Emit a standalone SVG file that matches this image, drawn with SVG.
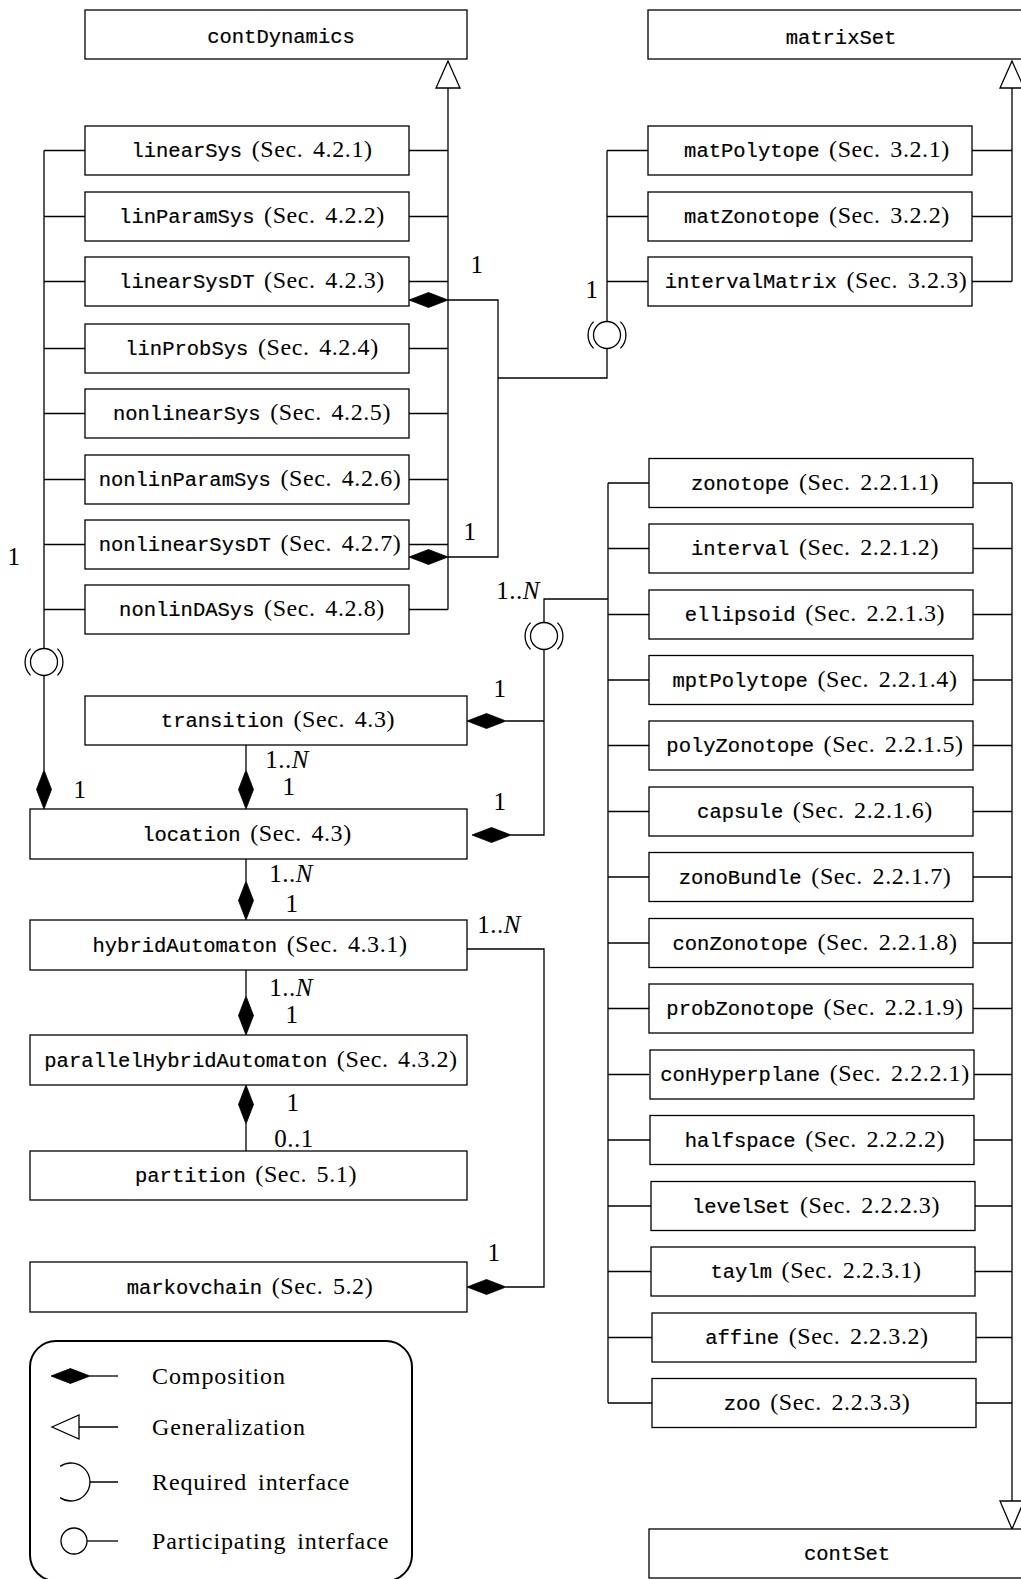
<svg xmlns="http://www.w3.org/2000/svg" width="1021" height="1579" viewBox="0 0 1021 1579">
<style>
.box{fill:#fff;stroke:#000;stroke-width:1.3}
.tt{font-family:"Liberation Mono","DejaVu Sans Mono",monospace;font-size:20.5px;stroke:#000;stroke-width:0.2}
.rm{font-family:"Liberation Serif","DejaVu Serif",serif;font-size:24px;letter-spacing:0.6px;word-spacing:3px}
.lg{letter-spacing:0.9px;word-spacing:4px}
.lbl{font-family:"Liberation Serif","DejaVu Serif",serif;font-size:25px;text-anchor:middle;letter-spacing:0.5px}
.it{font-style:italic}
text{fill:#000}
.c{text-anchor:middle}
.ln{fill:none;stroke:#000;stroke-width:1.3}
.dia{fill:#000;stroke:#000;stroke-width:0.8}
.gen{fill:#fff;stroke:#000;stroke-width:1.3}
.leg{fill:none;stroke:#000;stroke-width:2}
</style>
<defs>
<path id="dia" class="dia" d="M0,0 L19.5,-7.5 L39,0 L19.5,7.5 Z"/>
<g id="iface" class="ln">
<circle cx="0" cy="0" r="13.5"/>
<path d="M13.4,-13.4 A19,19 0 0 1 13.4,13.4"/>
<path d="M-13.4,13.4 A19,19 0 0 1 -13.4,-13.4"/>
</g>
</defs>

<g id="connectors">
<path class="ln" d="M44,150.5 H85 M44,216.5 H85 M44,281.5 H85 M44,348.5 H85 M44,413.5 H85 M44,479.5 H85 M44,544.5 H85 M44,609.5 H85"/>
<path class="ln" d="M409,150.5 H448 M409,216.5 H448 M409,281.5 H448 M409,348.5 H448 M409,413.5 H448 M409,479.5 H448 M409,544.5 H448 M409,609.5 H448"/>
<path class="ln" d="M448,88 V609.5"/>
<path class="gen" d="M448,61 L436,88 L460,88 Z"/>
<path class="ln" d="M44,150.5 V648.5 M44,675.5 V770"/>
<use href="#iface" x="44" y="662"/>
<use href="#dia" transform="translate(44,770) rotate(90)"/>
<path class="ln" d="M448,300 H498 V557 H448 M498,378 H607 V348.5"/>
<use href="#dia" transform="translate(409,300)"/>
<use href="#dia" transform="translate(409,557)"/>
<use href="#iface" x="607" y="335"/>
<path class="ln" d="M607,321.5 V150.5 M607,150.5 H648 M607,216.5 H648 M607,281.5 H648"/>
<path class="ln" d="M972,150.5 H1012 M972,216.5 H1012 M972,281.5 H1012 M1012,88 V281.5"/>
<path class="gen" d="M1012,61 L1000,88 L1024,88 Z"/>
<path class="ln" d="M608,483 V1403 M608,483 H649 M608,548.5 H649 M608,614.5 H649 M608,680 H649 M608,745.5 H649 M608,811.5 H649 M608,877 H649 M608,943 H649 M608,1008.5 H649 M608,1074.5 H649 M608,1140 H650 M608,1206 H651 M608,1271.5 H651 M608,1337.5 H652 M608,1403 H652"/>
<path class="ln" d="M973,483 H1012 M973,548.5 H1012 M973,614.5 H1012 M973,680 H1012 M973,745.5 H1012 M973,811.5 H1012 M973,877 H1012 M973,943 H1012 M973,1008.5 H1012 M974,1074.5 H1012 M974,1140 H1012 M975,1206 H1012 M975,1271.5 H1012 M976,1337.5 H1012 M976,1403 H1012 M1012,483 V1501"/>
<path class="gen" d="M1012,1529 L1000,1501 L1024,1501 Z"/>
<path class="ln" d="M608,599 H544 V622.5 M544,649.5 V835 H511 M544,721 H506"/>
<use href="#iface" x="544" y="636"/>
<use href="#dia" transform="translate(467,721)"/>
<use href="#dia" transform="translate(472,835)"/>
<path class="ln" d="M246,745 V770 M246,859 V881 M246,970 V996 M246,1124 V1151"/>
<use href="#dia" transform="translate(246,770) rotate(90)"/>
<use href="#dia" transform="translate(246,881) rotate(90)"/>
<use href="#dia" transform="translate(246,996) rotate(90)"/>
<use href="#dia" transform="translate(246,1085) rotate(90)"/>
<path class="ln" d="M467,949 H544 V1287 H506"/>
<use href="#dia" transform="translate(467,1287)"/>
<text class="lbl" x="477" y="273">1</text>
<text class="lbl" x="470" y="540">1</text>
<text class="lbl" x="592" y="298">1</text>
<text class="lbl" x="14" y="565">1</text>
<text class="lbl" x="518" y="599">1..<tspan class="it">N</tspan></text>
<text class="lbl" x="500" y="697">1</text>
<text class="lbl" x="500" y="810">1</text>
<text class="lbl" x="80" y="798">1</text>
<text class="lbl" x="287" y="768">1..<tspan class="it">N</tspan></text>
<text class="lbl" x="289" y="795">1</text>
<text class="lbl" x="291" y="882">1..<tspan class="it">N</tspan></text>
<text class="lbl" x="292" y="912">1</text>
<text class="lbl" x="291" y="996">1..<tspan class="it">N</tspan></text>
<text class="lbl" x="292" y="1023">1</text>
<text class="lbl" x="293" y="1111">1</text>
<text class="lbl" x="294" y="1147">0..1</text>
<text class="lbl" x="499" y="933">1..<tspan class="it">N</tspan></text>
<text class="lbl" x="494" y="1261">1</text>
</g>

<g id="contDynamics"><rect class="box" x="85" y="10" width="382" height="49"/><text class="tt c" x="281" y="42.5">contDynamics</text></g>
<g id="matrixSet"><rect class="box" x="648" y="10" width="400" height="49"/><text class="tt c" x="841" y="43.5">matrixSet</text></g>
<g id="contSet"><rect class="box" x="649" y="1529" width="400" height="49"/><text class="tt c" x="847" y="1560">contSet</text></g>

<g id="linearSys"><rect class="box" x="85" y="126" width="324" height="49"/><text class="c" x="252" y="157"><tspan class="tt">linearSys</tspan><tspan class="rm"> (Sec. 4.2.1)</tspan></text></g>
<g id="linParamSys"><rect class="box" x="85" y="192" width="324" height="49"/><text class="c" x="252" y="223"><tspan class="tt">linParamSys</tspan><tspan class="rm"> (Sec. 4.2.2)</tspan></text></g>
<g id="linearSysDT"><rect class="box" x="85" y="257" width="324" height="49"/><text class="c" x="252" y="288"><tspan class="tt">linearSysDT</tspan><tspan class="rm"> (Sec. 4.2.3)</tspan></text></g>
<g id="linProbSys"><rect class="box" x="85" y="324" width="324" height="49"/><text class="c" x="252" y="355"><tspan class="tt">linProbSys</tspan><tspan class="rm"> (Sec. 4.2.4)</tspan></text></g>
<g id="nonlinearSys"><rect class="box" x="85" y="389" width="324" height="49"/><text class="c" x="252" y="420"><tspan class="tt">nonlinearSys</tspan><tspan class="rm"> (Sec. 4.2.5)</tspan></text></g>
<g id="nonlinParamSys"><rect class="box" x="85" y="455" width="324" height="49"/><text class="c" x="250" y="486"><tspan class="tt">nonlinParamSys</tspan><tspan class="rm"> (Sec. 4.2.6)</tspan></text></g>
<g id="nonlinearSysDT"><rect class="box" x="85" y="520" width="324" height="49"/><text class="c" x="250" y="551"><tspan class="tt">nonlinearSysDT</tspan><tspan class="rm"> (Sec. 4.2.7)</tspan></text></g>
<g id="nonlinDASys"><rect class="box" x="85" y="585" width="324" height="49"/><text class="c" x="252" y="616"><tspan class="tt">nonlinDASys</tspan><tspan class="rm"> (Sec. 4.2.8)</tspan></text></g>

<g id="matPolytope"><rect class="box" x="648" y="126" width="324" height="49"/><text class="c" x="817" y="157"><tspan class="tt">matPolytope</tspan><tspan class="rm"> (Sec. 3.2.1)</tspan></text></g>
<g id="matZonotope"><rect class="box" x="648" y="192" width="324" height="49"/><text class="c" x="817" y="223"><tspan class="tt">matZonotope</tspan><tspan class="rm"> (Sec. 3.2.2)</tspan></text></g>
<g id="intervalMatrix"><rect class="box" x="648" y="257" width="324" height="49"/><text class="c" x="816" y="288"><tspan class="tt">intervalMatrix</tspan><tspan class="rm"> (Sec. 3.2.3)</tspan></text></g>

<g id="zonotope"><rect class="box" x="649" y="458.5" width="324" height="49"/><text class="c" x="815" y="489.5"><tspan class="tt">zonotope</tspan><tspan class="rm"> (Sec. 2.2.1.1)</tspan></text></g>
<g id="interval"><rect class="box" x="649" y="524" width="324" height="49"/><text class="c" x="815" y="555"><tspan class="tt">interval</tspan><tspan class="rm"> (Sec. 2.2.1.2)</tspan></text></g>
<g id="ellipsoid"><rect class="box" x="649" y="590" width="324" height="49"/><text class="c" x="815" y="621"><tspan class="tt">ellipsoid</tspan><tspan class="rm"> (Sec. 2.2.1.3)</tspan></text></g>
<g id="mptPolytope"><rect class="box" x="649" y="655.5" width="324" height="49"/><text class="c" x="815" y="686.5"><tspan class="tt">mptPolytope</tspan><tspan class="rm"> (Sec. 2.2.1.4)</tspan></text></g>
<g id="polyZonotope"><rect class="box" x="649" y="721" width="324" height="49"/><text class="c" x="815" y="752"><tspan class="tt">polyZonotope</tspan><tspan class="rm"> (Sec. 2.2.1.5)</tspan></text></g>
<g id="capsule"><rect class="box" x="649" y="787" width="324" height="49"/><text class="c" x="815" y="818"><tspan class="tt">capsule</tspan><tspan class="rm"> (Sec. 2.2.1.6)</tspan></text></g>
<g id="zonoBundle"><rect class="box" x="649" y="852.5" width="324" height="49"/><text class="c" x="815" y="883.5"><tspan class="tt">zonoBundle</tspan><tspan class="rm"> (Sec. 2.2.1.7)</tspan></text></g>
<g id="conZonotope"><rect class="box" x="649" y="918.5" width="324" height="49"/><text class="c" x="815" y="949.5"><tspan class="tt">conZonotope</tspan><tspan class="rm"> (Sec. 2.2.1.8)</tspan></text></g>
<g id="probZonotope"><rect class="box" x="649" y="984" width="324" height="49"/><text class="c" x="815" y="1015"><tspan class="tt">probZonotope</tspan><tspan class="rm"> (Sec. 2.2.1.9)</tspan></text></g>
<g id="conHyperplane"><rect class="box" x="650" y="1050" width="324" height="49"/><text class="c" x="815" y="1081"><tspan class="tt">conHyperplane</tspan><tspan class="rm"> (Sec. 2.2.2.1)</tspan></text></g>
<g id="halfspace"><rect class="box" x="650" y="1115.5" width="324" height="49"/><text class="c" x="815" y="1146.5"><tspan class="tt">halfspace</tspan><tspan class="rm"> (Sec. 2.2.2.2)</tspan></text></g>
<g id="levelSet"><rect class="box" x="651" y="1181.5" width="324" height="49"/><text class="c" x="816" y="1212.5"><tspan class="tt">levelSet</tspan><tspan class="rm"> (Sec. 2.2.2.3)</tspan></text></g>
<g id="taylm"><rect class="box" x="651" y="1247" width="324" height="49"/><text class="c" x="816" y="1278"><tspan class="tt">taylm</tspan><tspan class="rm"> (Sec. 2.2.3.1)</tspan></text></g>
<g id="affine"><rect class="box" x="652" y="1313" width="324" height="49"/><text class="c" x="817" y="1344"><tspan class="tt">affine</tspan><tspan class="rm"> (Sec. 2.2.3.2)</tspan></text></g>
<g id="zoo"><rect class="box" x="652" y="1378.5" width="324" height="49"/><text class="c" x="817" y="1409.5"><tspan class="tt">zoo</tspan><tspan class="rm"> (Sec. 2.2.3.3)</tspan></text></g>

<g id="transition"><rect class="box" x="85" y="696" width="382" height="49"/><text class="c" x="278" y="727"><tspan class="tt">transition</tspan><tspan class="rm"> (Sec. 4.3)</tspan></text></g>
<g id="location"><rect class="box" x="30" y="809" width="437" height="50"/><text class="c" x="247" y="840.5"><tspan class="tt">location</tspan><tspan class="rm"> (Sec. 4.3)</tspan></text></g>
<g id="hybridAutomaton"><rect class="box" x="30" y="920" width="437" height="50"/><text class="c" x="250" y="951.5"><tspan class="tt">hybridAutomaton</tspan><tspan class="rm"> (Sec. 4.3.1)</tspan></text></g>
<g id="parallelHybridAutomaton"><rect class="box" x="30" y="1035" width="437" height="50"/><text class="c" x="251" y="1066.5"><tspan class="tt">parallelHybridAutomaton</tspan><tspan class="rm"> (Sec. 4.3.2)</tspan></text></g>
<g id="partition"><rect class="box" x="30" y="1151" width="437" height="49"/><text class="c" x="246" y="1182"><tspan class="tt">partition</tspan><tspan class="rm"> (Sec. 5.1)</tspan></text></g>
<g id="markovchain"><rect class="box" x="30" y="1262" width="437" height="50"/><text class="c" x="250" y="1293.5"><tspan class="tt">markovchain</tspan><tspan class="rm"> (Sec. 5.2)</tspan></text></g>

<g id="legend">
<rect class="leg" x="30" y="1341" width="382" height="240" rx="26"/>
<use href="#dia" transform="translate(51,1376)"/>
<path class="ln" d="M90,1376 H118"/>
<text class="rm lg" x="152" y="1384">Composition</text>
<path class="gen" d="M52,1427 L79,1415 L79,1439 Z"/>
<path class="ln" d="M79,1427 H118"/>
<text class="rm lg" x="152" y="1435">Generalization</text>
<path class="ln" d="M60.1,1466.4 A19,19 0 1 1 60.1,1497.6 M90,1482 H118"/>
<text class="rm lg" x="152" y="1490">Required interface</text>
<circle class="ln" cx="74" cy="1541" r="13"/>
<path class="ln" d="M87,1541 H118"/>
<text class="rm lg" x="152" y="1549">Participating interface</text>
</g>
</svg>
